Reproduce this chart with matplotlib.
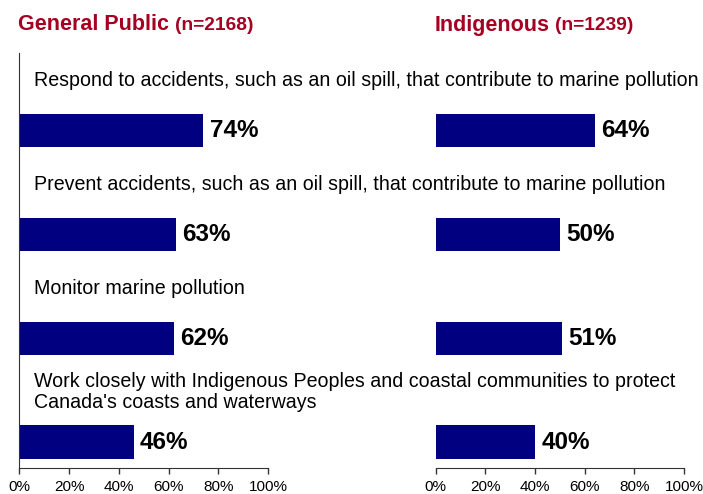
import numpy as np
import matplotlib.pyplot as plt

plt.rcParams['font.family'] = ['Liberation Sans', 'DejaVu Sans']

# survey items and results
items = [
    'Respond to accidents, such as an oil spill, that contribute to marine pollution',
    'Prevent accidents, such as an oil spill, that contribute to marine pollution',
    'Monitor marine pollution',
    "Work closely with Indigenous Peoples and coastal communities to protect\nCanada's coasts and waterways",
]
general_public = [74, 63, 62, 46]
indigenous = [64, 50, 51, 40]
ticks = [0, 20, 40, 60, 80, 100]

bar_color = '#000080'
title_color = '#A50021'

fig = plt.figure(figsize=(7.03, 4.94), dpi=100)
ax1 = fig.add_axes([0.0277, 0.0526, 0.3535, 0.840])
ax2 = fig.add_axes([0.6195, 0.0526, 0.3535, 0.840])

y = np.arange(len(items))

for ax, vals in [(ax1, general_public), (ax2, indigenous)]:
    ax.barh(y, vals, height=0.32, color=bar_color)
    for i, v in enumerate(vals):
        ax.text(v + 2.5, i, f'{v}%', va='center', ha='left',
                fontsize=17.5, fontweight='bold')
    ax.set_xlim(0, 100)
    ax.set_ylim(3.25, -0.745)
    ax.set_xticks(ticks)
    ax.set_xticklabels([f'{t}%' for t in ticks], fontsize=11)
    ax.set_yticks([])
    ax.tick_params(axis='x', length=4, width=1, color='#333333', pad=4.5)
    for s in ['top', 'right']:
        ax.spines[s].set_visible(False)
    ax.spines['bottom'].set_color('#333333')
    ax.spines['left'].set_color('#333333')
    ax.set_facecolor('none')

ax2.spines['left'].set_visible(False)

# item labels above each pair of bars
for i, label in enumerate(items):
    ax1.text(5.8, i - 0.48, label, va='center', ha='left', fontsize=14.1,
             linespacing=1.15)

# panel titles
fig.text(18 / 703, 1 - 25 / 494, 'General Public', color=title_color,
         fontsize=15.5, fontweight='bold', va='center', ha='left')
fig.text(175 / 703, 1 - 25 / 494, '(n=2168)', color=title_color,
         fontsize=13.8, fontweight='bold', va='center', ha='left')
fig.text(435 / 703, 1 - 25 / 494, 'Indigenous', color=title_color,
         fontsize=15.5, fontweight='bold', va='center', ha='left')
fig.text(555 / 703, 1 - 25 / 494, '(n=1239)', color=title_color,
         fontsize=13.8, fontweight='bold', va='center', ha='left')

fig.savefig('out.png', dpi=100)
